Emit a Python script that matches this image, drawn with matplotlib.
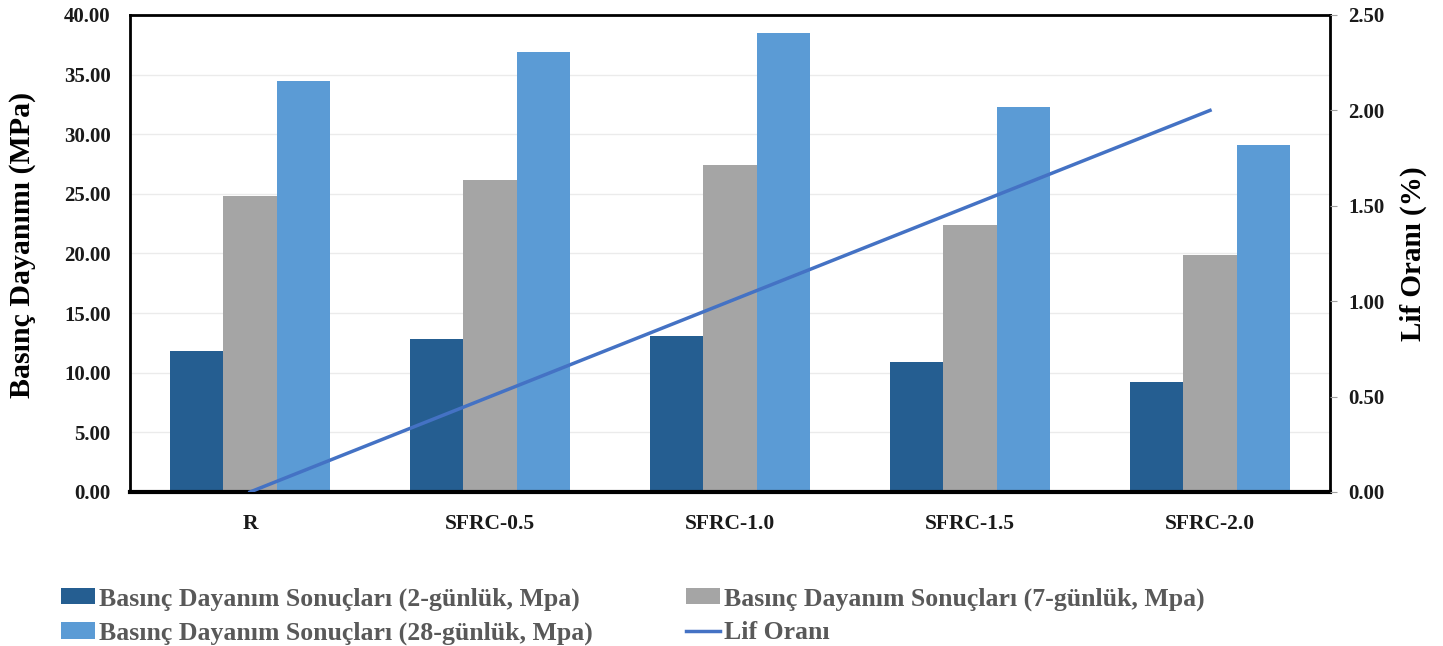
import matplotlib.pyplot as plt
import numpy as np
from matplotlib.ticker import FormatStrFormatter

plt.rcParams['font.family'] = ['Liberation Serif', 'DejaVu Serif']
plt.rcParams['font.weight'] = 'bold'

categories = ['R', 'SFRC-0.5', 'SFRC-1.0', 'SFRC-1.5', 'SFRC-2.0']
day2 = [11.8, 12.8, 13.1, 10.9, 9.2]
day7 = [24.8, 26.2, 27.4, 22.4, 19.9]
day28 = [34.5, 36.9, 38.5, 32.3, 29.1]
fiber_ratio = [0.0, 0.5, 1.0, 1.5, 2.0]

labels = ['Basınç Dayanım Sonuçları (2-günlük, Mpa)',
          'Basınç Dayanım Sonuçları (7-günlük, Mpa)',
          'Basınç Dayanım Sonuçları (28-günlük, Mpa)',
          'Lif Oranı']
colors = ['#255E91', '#A5A5A5', '#5B9BD5']
line_color = '#4472C4'

fig = plt.figure(figsize=(14.43, 6.46), dpi=100)
ax = fig.add_axes([0.0901, 0.2384, 0.8316, 0.7384])

x = np.arange(len(categories))
w = 0.222
b1 = ax.bar(x - w, day2, w, color=colors[0], label=labels[0], zorder=2)
b2 = ax.bar(x, day7, w, color=colors[1], label=labels[1], zorder=2)
b3 = ax.bar(x + w, day28, w, color=colors[2], label=labels[2], zorder=2)

ax.set_xlim(-0.5, len(categories) - 0.5)
ax.set_ylim(0, 40)
ax.set_yticks(np.arange(0, 40.1, 5))
ax.yaxis.set_major_formatter(FormatStrFormatter('%.2f'))
ax.set_xticks(x)
ax.set_xticklabels(categories)
ax.grid(axis='y', color='#EBEBEB', linewidth=1, zorder=0)
ax.tick_params(axis='y', length=0, labelsize=15, pad=14, colors='#1a1a1a')
ax.tick_params(axis='x', length=0, labelsize=15.5, pad=16, colors='#1a1a1a')
for s in ['left', 'right', 'top']:
    ax.spines[s].set_linewidth(2)
    ax.spines[s].set_color('black')
ax.spines['bottom'].set_linewidth(3)
ax.set_ylabel('Basınç Dayanımı (MPa)', fontsize=21.5, fontweight='bold')
ax.yaxis.set_label_coords(-0.078, 0.518)

ax2 = ax.twinx()
ln, = ax2.plot(x, fiber_ratio, color=line_color, linewidth=2.5, label=labels[3], zorder=3)
ax2.set_ylim(0, 2.5)
ax2.set_yticks(np.arange(0, 2.51, 0.5))
ax2.yaxis.set_major_formatter(FormatStrFormatter('%.2f'))
ax2.tick_params(axis='y', length=5, labelsize=15, pad=8, colors='#1a1a1a')
ax2.tick_params(axis='y', color='#A0A0A0')
for s in ax2.spines.values():
    s.set_visible(False)
ax2.set_ylabel('Lif Oranı (%)', fontsize=21, fontweight='bold', labelpad=11)

# row-major order across the two legend columns
handles = [b1, b3, b2, ln]
order_labels = [labels[0], labels[2], labels[1], labels[3]]
leg = fig.legend(handles, order_labels, loc='upper left',
                 bbox_to_anchor=(0.035, 1 - 577 / 646), bbox_transform=fig.transFigure,
                 ncol=2, frameon=False, fontsize=18.5, handlelength=1.35,
                 handleheight=0.6, handletextpad=0.15, columnspacing=3.6,
                 labelspacing=0.42, borderaxespad=0)
for t in leg.get_texts():
    t.set_color('#595959')

fig.savefig('out.png', dpi=100)
